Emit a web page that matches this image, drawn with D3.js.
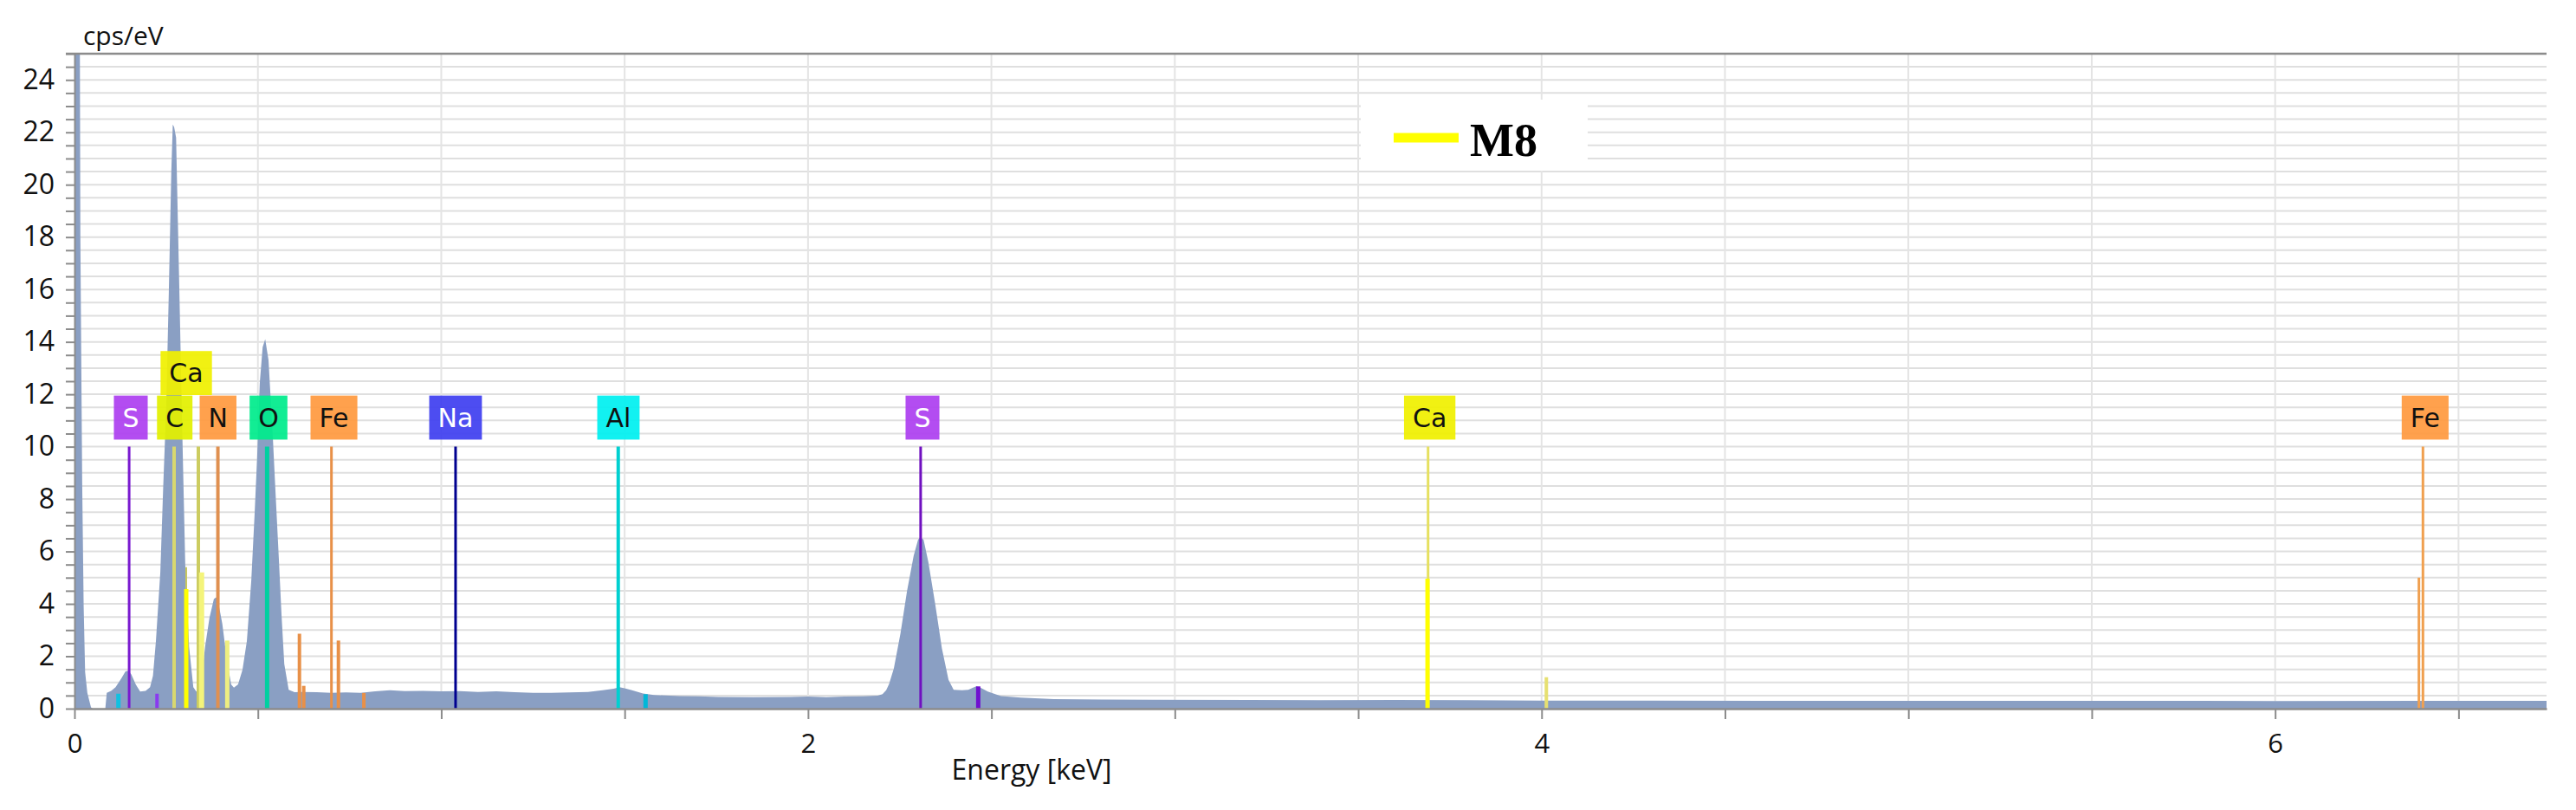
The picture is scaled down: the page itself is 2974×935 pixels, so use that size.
<!DOCTYPE html>
<html><head><meta charset="utf-8">
<script src="https://cdn.jsdelivr.net/npm/d3@7"></script>
<style>body{margin:0;background:#fff;} svg{display:block}</style>
</head><body>
<svg id="chart" width="2974" height="935"></svg>
<script>
// ---------------- data ----------------
// spectrum: [energy keV, cps/eV]
const spectrum = [
 [0,40],[0.012,40],[0.016,18],[0.021,8.6],[0.025,3.9],[0.029,1.4],[0.035,0.6],[0.045,0.05],[0.05,0],[0.084,0],
 [0.088,0.6],[0.1,0.68],[0.112,0.82],[0.1275,1.15],[0.139,1.42],[0.147,1.45],[0.155,1.31],[0.167,0.93],[0.179,0.65],
 [0.194,0.68],[0.206,0.82],[0.214,1.26],[0.222,2.58],[0.234,5.2],[0.242,8.5],[0.25,11.5],[0.257,15.8],[0.264,20.5],
 [0.268,22.3],[0.2717,22.2],[0.277,21.8],[0.2866,15.5],[0.294,10.5],[0.298,8.0],[0.302,5.5],[0.3125,2.36],[0.324,0.82],
 [0.332,0.65],[0.344,0.82],[0.356,2.36],[0.368,3.46],[0.38,4.18],[0.386,4.25],[0.391,4.13],[0.403,3.24],[0.415,1.92],
 [0.427,0.93],[0.4346,0.8],[0.446,0.93],[0.458,1.48],[0.47,2.58],[0.482,4.89],[0.491,7.4],[0.498,9.6],[0.505,12.4],
 [0.513,13.8],[0.52,14.1],[0.529,13.3],[0.541,10.3],[0.549,8.0],[0.557,5.77],[0.5645,3.57],[0.572,1.7],[0.584,0.72],
 [0.6,0.63],[0.62,0.64],[0.66,0.63],[0.70,0.6],[0.74,0.62],[0.78,0.6],[0.82,0.66],[0.86,0.7],[0.9,0.67],[0.95,0.68],
 [1.0,0.66],[1.05,0.67],[1.1,0.64],[1.15,0.66],[1.2,0.63],[1.25,0.6],[1.3,0.6],[1.35,0.62],[1.4,0.64],[1.44,0.7],
 [1.47,0.76],[1.486,0.82],[1.5,0.78],[1.52,0.7],[1.55,0.58],[1.58,0.52],[1.65,0.48],[1.7,0.47],[1.756,0.45],[1.85,0.44],
 [1.95,0.45],[2.0,0.46],[2.05,0.44],[2.1,0.46],[2.15,0.47],[2.19,0.5],[2.203,0.55],[2.213,0.7],[2.221,0.94],[2.234,1.54],
 [2.252,2.87],[2.27,4.5],[2.288,5.84],[2.30,6.45],[2.306,6.55],[2.315,6.45],[2.328,5.6],[2.347,3.97],[2.365,2.3],
 [2.383,1.1],[2.397,0.72],[2.42,0.7],[2.437,0.72],[2.45,0.8],[2.459,0.85],[2.47,0.8],[2.49,0.65],[2.526,0.48],[2.58,0.42],
 [2.67,0.36],[2.8,0.35],[2.94,0.34],[3.2,0.33],[3.39,0.32],[3.6,0.33],[3.8,0.32],[4.0,0.31],[4.3,0.31],[4.6,0.3],
 [5.0,0.3],[5.5,0.3],[6.0,0.29],[6.4,0.3],[6.74,0.3]
];

// element marker lines
const lineEnergy  = [0.1197,0.149,0.225,0.2716,0.3047,0.3047,0.3377,0.3465,0.391,0.4165,0.5252,0.6133,0.625,0.7006,0.7196,0.789,1.039,1.4825,1.557,2.307,2.464,3.6905,3.689,4.013,6.403,6.392];
const lineHeight  = [0.57,10,0.57,10,5.4,4.56,10,5.2,10,2.6,10,2.86,0.87,10,2.6,0.6,10,10,0.55,10,0.85,10,4.96,1.2,10,5.0];
const lineElement = ["Al","S","S","C","Ca","Ca","Ca","Ca","N","Ca","O","Fe","Fe","Fe","Fe","Fe","Na","Al","Al","S","S","Ca","Ca","Ca","Fe","Fe"];

// element labels
const labelText   = ["S","C","Ca","N","O","Fe","Na","Al","S","Ca","Fe"];
const labelEnergy = [0.1535,0.2733,0.3047,0.3914,0.529,0.7074,1.039,1.483,2.312,3.695,6.409];
const labelRow    = [0,0,1,0,0,0,0,0,0,0,0];

const yTickLabels = [0,2,4,6,8,10,12,14,16,18,20,22,24];
const xTickLabels = [0,2,4,6];
const legendName = "M8";

// ---------------- styles ----------------
const lineColor = ["#10c0e0","#7a1ad0","#8a3af0","#d8d870","#c8c860","#ffff00","#cccc60","#f4f47a","#e09050","#eeee80","#00d0a0","#e89048","#e89048","#e89048","#e89048","#e89048","#000090","#00d0d0","#00b8d8","#7010c0","#7010d0","#e6e060","#ffff00","#e6e070","#f0a050","#f0a050"];
const lineWidth = [5,3,4,4,2,5,4,6,4,5,5,4,4,3,4,4,3,4,5,3,5,3,5,4,3,3];
const labelFill = {"S":"#ad3ff0","C":"#e2f000","Ca":"#f0f000","N":"#ff9a40","O":"#00ec8c","Fe":"#ff9a40","Na":"#4040f0","Al":"#00f0f0"};
const labelTextColor = {"S":"#ffffff","Na":"#ffffff"};

const svg = d3.select("#chart");
const X0 = 86, X1 = 2940, Y0 = 818, Y1 = 62;
const x = d3.scaleLinear().domain([0, 6.74]).range([X0, X1]);
const y = d3.scaleLinear().domain([0, 25]).range([Y0, Y1]);

svg.append("rect").attr("width", 2974).attr("height", 935).attr("fill", "#fff");

// grid
svg.append("g").selectAll("line").data(d3.range(0.5, 25, 0.5)).join("line")
  .attr("x1", X0).attr("x2", X1).attr("y1", d => y(d)).attr("y2", d => y(d))
  .attr("stroke", "#dfdfdf").attr("stroke-width", 2);
svg.append("g").selectAll("line").data(d3.range(0.5, 6.74, 0.5)).join("line")
  .attr("x1", d => x(d)).attr("x2", d => x(d)).attr("y1", Y1).attr("y2", Y0)
  .attr("stroke", "#e4e4e4").attr("stroke-width", 2);

// legend box
svg.append("rect").attr("x", 1571).attr("y", 115).attr("width", 262).attr("height", 82).attr("fill", "#fff");
svg.append("line").attr("x1", 1609).attr("x2", 1684).attr("y1", 159).attr("y2", 159)
  .attr("stroke", "#ffff00").attr("stroke-width", 11);
svg.append("text").attr("x", 1697).attr("y", 180).text(legendName)
  .attr("font-family", "Liberation Serif, Times New Roman, serif").attr("font-weight", "bold")
  .attr("font-size", 54).attr("fill", "#000");

// clip
svg.append("clipPath").attr("id", "plotclip").append("rect")
  .attr("x", X0).attr("y", Y1).attr("width", X1 - X0).attr("height", Y0 - Y1);

// spectrum
const area = d3.area().x(d => x(d[0])).y0(y(0)).y1(d => y(d[1])).curve(d3.curveLinear);
svg.append("path").datum(spectrum).attr("d", area).attr("fill", "#8a9fc3")
  .attr("clip-path", "url(#plotclip)");

// element lines
svg.append("g").selectAll("line").data(lineEnergy).join("line")
  .attr("x1", d => x(d)).attr("x2", d => x(d))
  .attr("y1", y(0)).attr("y2", (d, i) => y(lineHeight[i]))
  .attr("stroke", (d, i) => lineColor[i]).attr("stroke-width", (d, i) => lineWidth[i]);

// axes
const yAxis = d3.axisLeft(y).tickValues(d3.range(0, 25.01, 0.5)).tickSize(10).tickSizeOuter(0)
  .tickPadding(13).tickFormat(d => yTickLabels.includes(d) ? d : "");
const gy = svg.append("g").attr("transform", `translate(${X0},0)`).call(yAxis);
gy.selectAll(".tick line").attr("stroke", "#8c8c8c").attr("stroke-width", 2);
gy.select(".domain").attr("stroke", "#8c8c8c").attr("stroke-width", 2);
gy.selectAll("text").attr("font-family", "Open Sans, sans-serif").attr("font-size", 32).attr("fill", "#111");

const xAxis = d3.axisBottom(x).tickValues(d3.range(0, 6.74, 0.5)).tickSize(12).tickSizeOuter(0)
  .tickPadding(17).tickFormat(d => xTickLabels.includes(d) ? d : "");
const gx = svg.append("g").attr("transform", `translate(0,${Y0})`).call(xAxis);
gx.selectAll(".tick line").attr("stroke", "#8c8c8c").attr("stroke-width", 2);
gx.select(".domain").attr("stroke", "#8c8c8c").attr("stroke-width", 2.5);
gx.selectAll("text").attr("font-family", "Open Sans, sans-serif").attr("font-size", 31).attr("fill", "#111");

// top border
svg.append("line").attr("x1", 76).attr("x2", X1).attr("y1", Y1).attr("y2", Y1)
  .attr("stroke", "#8c8c8c").attr("stroke-width", 2.5);

// labels
const lg = svg.append("g");
labelText.forEach((t, i) => {
  const base = 10.27 + labelRow[i] * 1.7;
  const cx = x(labelEnergy[i]);
  const g = lg.append("g");
  const rect = g.append("rect").attr("fill", labelFill[t]).attr("fill-opacity", 0.93);
  const txt = g.append("text").text(t).attr("x", cx).attr("text-anchor", "middle")
    .attr("font-family", "DejaVu Sans, sans-serif").attr("font-size", 30)
    .attr("fill", labelTextColor[t] || "#111");
  const top = y(base + 1.68), bot = y(base);
  txt.attr("y", (top + bot) / 2).attr("dominant-baseline", "central");
  const w = txt.node().getComputedTextLength() + 20;
  rect.attr("x", cx - w / 2).attr("width", w).attr("y", top).attr("height", bot - top);
});

// axis titles
svg.append("text").attr("x", 96).attr("y", 52).text("cps/eV")
  .attr("font-family", "Open Sans, sans-serif").attr("font-size", 30).attr("fill", "#111");
svg.append("text").attr("x", 1191).attr("y", 900).attr("text-anchor", "middle").text("Energy [keV]")
  .attr("font-family", "Open Sans, sans-serif").attr("font-size", 32).attr("fill", "#111");
</script>
</body></html>
